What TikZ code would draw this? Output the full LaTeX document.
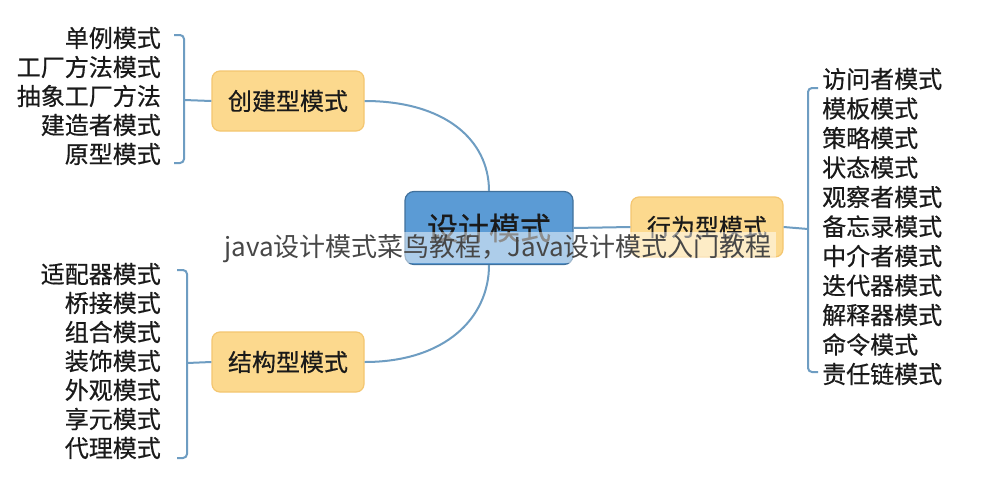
\documentclass[tikz,border=0pt]{standalone}
\usepackage{fontspec}
\setmainfont{Noto Sans CJK SC}
\newfontfamily\yah[FakeBold=0.5]{Noto Sans CJK SC}
\usetikzlibrary{positioning}
\definecolor{linec}{HTML}{6E9DC2}
\definecolor{orfill}{HTML}{FCD98E}
\definecolor{ordraw}{HTML}{F4C670}
\definecolor{blfill}{HTML}{5B9BD5}
\definecolor{bldraw}{HTML}{41719C}
\definecolor{txt}{HTML}{1A1A1A}
\tikzset{
  catbox/.style={draw=ordraw, line width=1.2pt, fill=orfill, rounded corners=8pt,
    minimum width=152pt, minimum height=60pt, inner sep=0pt, text=txt,
    font=\yah\fontsize{24}{24}\selectfont},
  rootbox/.style={draw=bldraw, line width=1.2pt, fill=blfill, rounded corners=9pt,
    minimum width=168pt, minimum height=73pt, inner sep=0pt, text=txt,
    font=\yah\fontsize{31}{31}\selectfont},
  item/.style={inner sep=0pt, text=txt, font=\yah\fontsize{24}{24}\selectfont},
  litem/.style={item, anchor=east},
  ritem/.style={item, anchor=west},
  conn/.style={draw=linec, line width=2pt},
  brace/.style={conn, rounded corners=4pt},
}
\begin{document}
\begin{tikzpicture}[x=1pt,y=-1pt]
\useasboundingbox (0,0) rectangle (1000,490);
\fill[white] (0,0) rectangle (1000,490);

% main nodes
\node[rootbox] (root) at (489,228) {设计模式};
\node[catbox] (cre) at (288,101) {创建型模式};
\node[catbox] (str) at (288,362) {结构型模式};
\node[catbox] (beh) at (707,227) {行为型模式};

% creational items
\node[litem] (c1) at (161,38) {单例模式};
\node[litem] (c2) at (161,67) {工厂方法模式};
\node[litem] (c3) at (161,96) {抽象工厂方法};
\node[litem] (c4) at (161,125) {建造者模式};
\node[litem] (c5) at (161,154) {原型模式};

% structural items
\node[litem] (s1) at (161,274) {适配器模式};
\node[litem] (s2) at (161,303) {桥接模式};
\node[litem] (s3) at (161,332) {组合模式};
\node[litem] (s4) at (161,361) {装饰模式};
\node[litem] (s5) at (161,390) {外观模式};
\node[litem] (s6) at (161,419) {享元模式};
\node[litem] (s7) at (161,448) {代理模式};

% behavioral items
\node[ritem] (b1) at (822,79) {访问者模式};
\node[ritem] (b2) at (822,108.5) {模板模式};
\node[ritem] (b3) at (822,138) {策略模式};
\node[ritem] (b4) at (822,167.5) {状态模式};
\node[ritem] (b5) at (822,197) {观察者模式};
\node[ritem] (b6) at (822,226.5) {备忘录模式};
\node[ritem] (b7) at (822,256) {中介者模式};
\node[ritem] (b8) at (822,285.5) {迭代器模式};
\node[ritem] (b9) at (822,315) {解释器模式};
\node[ritem] (b10) at (822,344.5) {命令模式};
\node[ritem] (b11) at (822,374) {责任链模式};

% bracket coordinates
\coordinate (cb) at (184,100);
\coordinate (sb) at (187,363);
\coordinate (bb) at (808,229);

% connectors
\draw[conn] (cre.east) .. controls (445,101) and (489,140) .. (root.north);
\draw[conn] (str.east) .. controls (445,362) and (489,318) .. (root.south);
\draw[conn] (root.east) -- (beh.west);
\draw[conn] (beh.east) -- (bb);
\draw[conn] (cre.west) -- (cb);
\draw[conn] (str.west) -- (sb);

% brackets
\draw[brace] (174,35) -- (184,35) -- (184,163) -- (174,163);
\draw[brace] (177,270) -- (187,270) -- (187,458) -- (177,458);
\draw[brace] (818,88) -- (808,88) -- (808,372) -- (818,372);

% watermark band
\fill[white, opacity=0.5] (224,232) rectangle (776,263);
\node[inner sep=0pt, text=black!72, font=\fontsize{26}{26}\selectfont] (wm) at (498,249) {java设计模式菜鸟教程，Java设计模式入门教程};
\end{tikzpicture}
\end{document}
